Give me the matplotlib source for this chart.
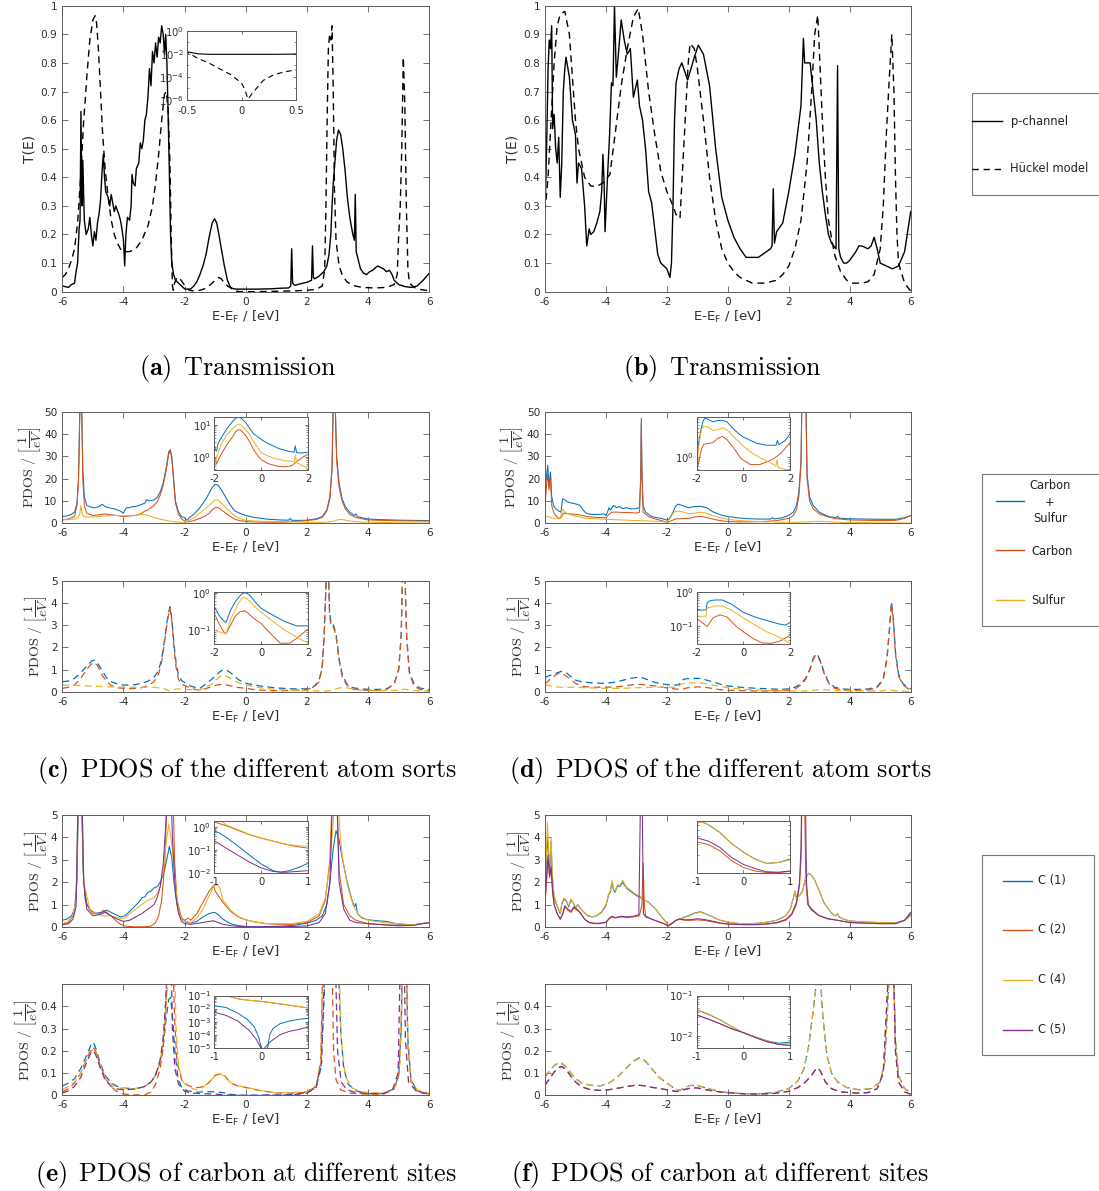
import numpy as np
import matplotlib
matplotlib.use("Agg")
import matplotlib.pyplot as plt
from matplotlib.ticker import FuncFormatter, NullFormatter, LogLocator, FixedLocator
from matplotlib.lines import Line2D
from matplotlib.patches import Rectangle

plt.rcParams['axes.unicode_minus'] = False

# ---------------------------------------------------------------- data
# (a) transmission, molecule 1: (E - E_F [eV], T)
a_pchannel = [(-6.0,0.02),(-5.8,0.015),(-5.7,0.025),(-5.6,0.03),(-5.55,0.07),(-5.5,0.1),(-5.45,0.22),(-5.42,0.25),(-5.39,0.63),(-5.36,0.3),(-5.33,0.46),(-5.28,0.25),(-5.22,0.2),(-5.15,0.22),(-5.1,0.26),(-5.05,0.2),(-5.0,0.16),(-4.95,0.21),(-4.9,0.18),(-4.85,0.24),(-4.8,0.27),(-4.75,0.32),(-4.7,0.42),(-4.66,0.48),(-4.62,0.4),(-4.58,0.35),(-4.5,0.33),(-4.45,0.3),(-4.4,0.34),(-4.35,0.31),(-4.3,0.28),(-4.25,0.3),(-4.15,0.27),(-4.1,0.25),(-4.05,0.22),(-4.0,0.18),(-3.96,0.09),(-3.92,0.2),(-3.87,0.26),(-3.8,0.25),(-3.75,0.3),(-3.72,0.41),(-3.68,0.38),(-3.62,0.37),(-3.58,0.43),(-3.5,0.45),(-3.45,0.52),(-3.4,0.5),(-3.35,0.53),(-3.3,0.6),(-3.25,0.62),(-3.2,0.68),(-3.15,0.78),(-3.1,0.72),(-3.05,0.84),(-3.0,0.8),(-2.95,0.87),(-2.9,0.82),(-2.85,0.89),(-2.8,0.87),(-2.75,0.93),(-2.7,0.9),(-2.66,0.83),(-2.62,0.9),(-2.58,0.8),(-2.54,0.62),(-2.5,0.42),(-2.46,0.2),(-2.42,0.1),(-2.36,0.06),(-2.3,0.04),(-2.2,0.03),(-2.1,0.02),(-2.0,0.01),(-1.9,0.008),(-1.8,0.01),(-1.7,0.02),(-1.6,0.035),(-1.5,0.06),(-1.4,0.09),(-1.3,0.13),(-1.2,0.19),(-1.1,0.24),(-1.02,0.255),(-0.95,0.24),(-0.88,0.2),(-0.8,0.15),(-0.7,0.09),(-0.6,0.04),(-0.5,0.015),(-0.4,0.01),(-0.3,0.009),(0.0,0.009),(0.3,0.009),(0.5,0.0095),(0.8,0.01),(1.1,0.012),(1.4,0.013),(1.47,0.02),(1.5,0.15),(1.53,0.03),(1.6,0.022),(1.8,0.028),(2.0,0.033),(2.15,0.04),(2.18,0.16),(2.21,0.05),(2.25,0.045),(2.4,0.055),(2.55,0.07),(2.65,0.09),(2.72,0.13),(2.78,0.2),(2.82,0.3),(2.86,0.38),(2.92,0.46),(2.97,0.53),(3.03,0.565),(3.1,0.55),(3.17,0.5),(3.25,0.42),(3.32,0.33),(3.4,0.26),(3.5,0.2),(3.55,0.18),(3.58,0.34),(3.61,0.14),(3.68,0.11),(3.75,0.08),(3.85,0.065),(3.95,0.06),(4.05,0.07),(4.15,0.075),(4.25,0.085),(4.32,0.09),(4.4,0.085),(4.5,0.08),(4.6,0.07),(4.7,0.075),(4.78,0.06),(4.85,0.04),(5.0,0.025),(5.2,0.018),(5.4,0.015),(5.6,0.02),(5.8,0.04),(6.0,0.065)]
a_huckel = [(-6.0,0.05),(-5.9,0.06),(-5.8,0.08),(-5.7,0.11),(-5.6,0.15),(-5.5,0.24),(-5.4,0.4),(-5.3,0.6),(-5.25,0.67),(-5.2,0.75),(-5.1,0.88),(-5.0,0.95),(-4.93,0.965),(-4.88,0.94),(-4.82,0.85),(-4.75,0.7),(-4.68,0.55),(-4.6,0.43),(-4.5,0.33),(-4.4,0.25),(-4.3,0.2),(-4.2,0.17),(-4.1,0.15),(-4.0,0.14),(-3.8,0.14),(-3.6,0.15),(-3.4,0.18),(-3.2,0.23),(-3.05,0.3),(-2.95,0.38),(-2.85,0.48),(-2.75,0.6),(-2.66,0.69),(-2.6,0.7),(-2.54,0.64),(-2.48,0.45),(-2.44,0.2),(-2.4,0.02),(-2.37,0.005),(-2.33,0.03),(-2.25,0.05),(-2.15,0.045),(-2.05,0.03),(-1.95,0.015),(-1.85,0.005),(-1.7,0.003),(-1.5,0.005),(-1.3,0.012),(-1.15,0.025),(-1.0,0.04),(-0.88,0.05),(-0.8,0.045),(-0.7,0.03),(-0.6,0.02),(-0.5,0.014),(-0.4,0.004),(-0.3,0.0016),(-0.2,5e-4),(-0.1,1.6e-4),(0.0,3e-5),(0.03,8e-6),(0.06,1.2e-6),(0.1,4e-6),(0.15,1.4e-5),(0.2,5e-5),(0.3,1.6e-4),(0.4,2.8e-4),(0.5,4e-4),(0.8,0.001),(1.2,0.002),(1.6,0.003),(2.0,0.005),(2.3,0.008),(2.5,0.02),(2.58,0.08),(2.62,0.3),(2.66,0.6),(2.7,0.85),(2.74,0.9),(2.78,0.88),(2.82,0.93),(2.86,0.7),(2.9,0.35),(2.95,0.18),(3.05,0.09),(3.15,0.06),(3.3,0.035),(3.5,0.022),(3.8,0.015),(4.2,0.013),(4.6,0.015),(4.85,0.025),(4.95,0.06),(5.0,0.2),(5.05,0.3),(5.1,0.5),(5.15,0.82),(5.2,0.65),(5.25,0.3),(5.3,0.08),(5.35,0.03),(5.5,0.015),(5.7,0.008),(6.0,0.003)]

# (b) transmission, molecule 2
b_pchannel = [(-6.0,0.28),(-5.97,0.4),(-5.93,0.6),(-5.9,0.78),(-5.86,0.88),(-5.82,0.85),(-5.78,0.93),(-5.75,0.57),(-5.7,0.62),(-5.65,0.5),(-5.6,0.45),(-5.55,0.54),(-5.5,0.33),(-5.45,0.45),(-5.4,0.7),(-5.35,0.78),(-5.31,0.82),(-5.2,0.75),(-5.1,0.6),(-5.0,0.55),(-4.95,0.38),(-4.9,0.45),(-4.8,0.43),(-4.7,0.3),(-4.63,0.16),(-4.55,0.22),(-4.5,0.2),(-4.4,0.21),(-4.3,0.24),(-4.2,0.28),(-4.14,0.35),(-4.1,0.48),(-4.06,0.38),(-4.03,0.21),(-3.95,0.4),(-3.88,0.55),(-3.82,0.73),(-3.77,0.72),(-3.72,1.0),(-3.66,0.75),(-3.6,0.82),(-3.5,0.95),(-3.4,0.88),(-3.3,0.83),(-3.2,0.85),(-3.1,0.68),(-2.97,0.74),(-2.9,0.65),(-2.8,0.6),(-2.7,0.5),(-2.6,0.35),(-2.5,0.31),(-2.4,0.22),(-2.3,0.13),(-2.2,0.1),(-2.1,0.09),(-2.0,0.08),(-1.9,0.05),(-1.85,0.1),(-1.8,0.3),(-1.75,0.6),(-1.7,0.73),(-1.6,0.78),(-1.51,0.8),(-1.32,0.74),(-1.1,0.82),(-0.97,0.862),(-0.8,0.83),(-0.6,0.72),(-0.4,0.5),(-0.2,0.33),(0.0,0.25),(0.2,0.19),(0.4,0.15),(0.6,0.12),(0.8,0.12),(1.0,0.12),(1.2,0.135),(1.4,0.15),(1.45,0.16),(1.49,0.36),(1.53,0.17),(1.6,0.21),(1.8,0.24),(2.0,0.35),(2.2,0.48),(2.4,0.65),(2.48,0.886),(2.52,0.8),(2.6,0.8),(2.7,0.8),(2.8,0.7),(2.9,0.6),(3.0,0.45),(3.1,0.35),(3.2,0.27),(3.3,0.2),(3.4,0.17),(3.55,0.15),(3.6,0.79),(3.64,0.15),(3.7,0.12),(3.8,0.1),(3.9,0.1),(4.0,0.11),(4.2,0.14),(4.3,0.16),(4.4,0.16),(4.6,0.15),(4.7,0.16),(4.8,0.19),(4.9,0.15),(5.0,0.1),(5.2,0.09),(5.4,0.08),(5.6,0.09),(5.8,0.14),(6.0,0.28)]
b_huckel = [(-6.0,0.28),(-5.9,0.4),(-5.8,0.6),(-5.7,0.8),(-5.6,0.93),(-5.5,0.97),(-5.35,0.98),(-5.2,0.9),(-5.1,0.75),(-5.0,0.6),(-4.9,0.5),(-4.7,0.4),(-4.5,0.37),(-4.33,0.367),(-4.1,0.38),(-3.87,0.41),(-3.7,0.55),(-3.5,0.72),(-3.3,0.85),(-3.1,0.96),(-2.94,0.99),(-2.8,0.9),(-2.6,0.7),(-2.4,0.55),(-2.2,0.42),(-2.0,0.35),(-1.8,0.3),(-1.7,0.27),(-1.57,0.256),(-1.5,0.4),(-1.4,0.6),(-1.3,0.8),(-1.24,0.868),(-1.1,0.85),(-1.0,0.78),(-0.8,0.6),(-0.6,0.4),(-0.4,0.25),(-0.2,0.15),(0.0,0.1),(0.2,0.07),(0.4,0.05),(0.6,0.04),(0.8,0.03),(1.0,0.03),(1.2,0.03),(1.4,0.035),(1.6,0.04),(1.8,0.06),(2.0,0.09),(2.2,0.15),(2.4,0.25),(2.6,0.45),(2.75,0.7),(2.85,0.9),(2.95,0.967),(3.0,0.85),(3.1,0.6),(3.2,0.4),(3.3,0.25),(3.5,0.13),(3.7,0.07),(3.9,0.04),(4.1,0.03),(4.4,0.03),(4.6,0.035),(4.8,0.06),(5.0,0.15),(5.1,0.3),(5.2,0.55),(5.3,0.75),(5.38,0.9),(5.45,0.7),(5.5,0.4),(5.55,0.2),(5.6,0.1),(5.8,0.03),(6.0,0.002)]

# (c) PDOS by atom sort, molecule 1 -- upper: p-channel, lower: Hueckel
c_top_cs = [(-6.0,3.0),(-5.9,3.2),(-5.8,3.5),(-5.7,4.0),(-5.6,5.0),(-5.52,9),(-5.47,20),(-5.42,55),(-5.37,55),(-5.33,25),(-5.28,12),(-5.2,8),(-5.1,7.5),(-5.0,7),(-4.9,7),(-4.8,7.5),(-4.7,8.5),(-4.6,7.5),(-4.5,7),(-4.3,6.5),(-4.1,5.5),(-4.0,4.5),(-3.95,6),(-3.9,7),(-3.8,7),(-3.7,7.5),(-3.6,7.5),(-3.5,8),(-3.4,8.5),(-3.3,9),(-3.25,10.5),(-3.15,10),(-3.0,10.5),(-2.9,11.5),(-2.8,14),(-2.7,18),(-2.6,25),(-2.52,32),(-2.47,33),(-2.42,30),(-2.36,20),(-2.3,10),(-2.2,5),(-2.1,3),(-2.0,2.5),(-1.95,1.6),(-1.9,1.5),(-1.85,2.5),(-1.7,4),(-1.5,7),(-1.3,11),(-1.1,16),(-1.0,17.5),(-0.9,17),(-0.8,15),(-0.65,11.5),(-0.5,8),(-0.35,5.5),(-0.2,4.5),(0.0,3.5),(0.25,2.7),(0.5,2.2),(0.75,1.8),(1.0,1.6),(1.2,1.45),(1.4,1.4),(1.45,2.2),(1.5,1.35),(1.7,1.3),(2.0,1.4),(2.3,2),(2.5,3),(2.65,6),(2.75,12),(2.82,25),(2.86,55),(2.92,55),(2.97,30),(3.05,18),(3.15,11),(3.25,7.5),(3.4,5),(3.55,3.5),(3.6,4.2),(3.65,3),(3.8,2.5),(4.0,1.9),(4.5,1.6),(5.0,1.4),(5.5,1.3),(6.0,1.2)]
c_top_c = [(-6.0,1.5),(-5.8,2),(-5.6,3),(-5.52,8),(-5.47,19),(-5.42,55),(-5.37,55),(-5.33,20),(-5.28,8),(-5.2,4.5),(-5.0,3.5),(-4.8,3.8),(-4.6,4.2),(-4.4,3.8),(-4.2,3.5),(-4.0,3),(-3.8,3.3),(-3.6,3.5),(-3.4,4.5),(-3.3,5.5),(-3.2,6),(-3.1,7),(-3.0,8),(-2.9,9.5),(-2.8,12.5),(-2.7,17),(-2.6,24),(-2.52,31),(-2.47,32.5),(-2.42,29),(-2.36,19),(-2.3,9),(-2.2,4),(-2.1,2),(-2.0,1.0),(-1.9,0.6),(-1.8,0.9),(-1.7,1.2),(-1.5,2.2),(-1.3,3.5),(-1.2,4.5),(-1.1,6),(-1.0,7),(-0.9,7),(-0.8,6),(-0.65,4.5),(-0.5,3),(-0.35,1.8),(-0.2,1.2),(0.0,0.8),(0.3,0.6),(0.7,0.5),(1.0,0.48),(1.3,0.52),(1.5,0.7),(1.8,1.0),(2.0,1.2),(2.3,1.7),(2.5,2.6),(2.65,5.5),(2.75,11),(2.82,24),(2.86,55),(2.92,55),(2.97,28),(3.05,16),(3.15,10),(3.25,6.5),(3.4,4),(3.6,2.6),(3.8,2),(4.0,1.5),(5.0,1.1),(6.0,1.0)]
c_top_s = [(-6.0,1.5),(-5.8,1.7),(-5.6,1.9),(-5.5,2.5),(-5.43,4),(-5.39,8),(-5.35,4),(-5.3,3),(-5.1,2.8),(-4.9,2.9),(-4.7,3.2),(-4.5,3.4),(-4.2,3.5),(-4.0,3.4),(-3.8,3.5),(-3.6,3.6),(-3.4,4),(-3.2,3.6),(-3.0,2.6),(-2.8,1.8),(-2.6,1.3),(-2.4,0.8),(-2.2,0.5),(-2.0,0.4),(-1.9,1.0),(-1.7,2.5),(-1.5,4.5),(-1.2,8),(-1.0,10.5),(-0.9,10.5),(-0.8,9),(-0.65,7),(-0.5,5),(-0.35,3.2),(-0.2,2.2),(0.0,1.3),(0.5,0.9),(1.0,0.75),(1.4,0.7),(1.45,1.1),(1.5,0.65),(1.8,0.5),(2.0,0.4),(2.4,0.4),(2.7,0.6),(2.9,1.0),(3.05,1.8),(3.2,1.6),(3.4,1.0),(3.7,0.6),(4.0,0.5),(5.0,0.25),(6.0,0.1)]
c_bot_cs = [(-6.0,0.45),(-5.8,0.48),(-5.6,0.6),(-5.4,0.85),(-5.2,1.15),(-5.05,1.38),(-4.95,1.42),(-4.85,1.3),(-4.7,0.95),(-4.55,0.62),(-4.4,0.45),(-4.2,0.35),(-4.0,0.3),(-3.8,0.3),(-3.6,0.32),(-3.4,0.38),(-3.2,0.47),(-3.0,0.65),(-2.85,0.95),(-2.75,1.5),(-2.65,2.4),(-2.55,3.4),(-2.48,3.83),(-2.42,3.3),(-2.35,2.2),(-2.28,1.3),(-2.2,0.75),(-2.1,0.5),(-2.0,0.42),(-1.8,0.25),(-1.65,0.19),(-1.5,0.16),(-1.3,0.35),(-1.1,0.58),(-1.0,0.7),(-0.85,0.9),(-0.72,1.0),(-0.6,0.95),(-0.45,0.8),(-0.25,0.55),(0.0,0.38),(0.5,0.25),(1.0,0.17),(1.5,0.13),(2.0,0.13),(2.2,0.2),(2.4,0.5),(2.5,1.2),(2.56,2.5),(2.6,4.0),(2.64,5.5),(2.7,5.5),(2.74,3.6),(2.8,3.0),(2.87,3.0),(2.95,2.6),(3.05,1.5),(3.15,0.8),(3.3,0.35),(3.5,0.18),(3.8,0.12),(4.2,0.1),(4.6,0.12),(4.85,0.35),(5.0,1.0),(5.08,2.5),(5.13,5.5),(5.2,5.5),(5.26,2.5),(5.35,0.9),(5.5,0.35),(5.7,0.16),(6.0,0.1)]
c_bot_c = [(-6.0,0.15),(-5.8,0.2),(-5.6,0.3),(-5.4,0.6),(-5.2,1.0),(-5.05,1.25),(-4.95,1.3),(-4.85,1.18),(-4.7,0.75),(-4.55,0.45),(-4.4,0.28),(-4.2,0.18),(-4.0,0.15),(-3.7,0.14),(-3.4,0.18),(-3.2,0.28),(-3.0,0.45),(-2.85,0.8),(-2.75,1.35),(-2.65,2.3),(-2.55,3.3),(-2.48,3.75),(-2.42,3.2),(-2.35,2.0),(-2.28,1.1),(-2.2,0.55),(-2.1,0.35),(-2.0,0.28),(-1.8,0.15),(-1.6,0.09),(-1.5,0.08),(-1.3,0.14),(-1.1,0.24),(-0.9,0.31),(-0.72,0.33),(-0.55,0.28),(-0.3,0.2),(0.0,0.15),(0.25,0.1),(0.5,0.07),(0.8,0.045),(1.2,0.045),(1.5,0.06),(1.8,0.085),(2.0,0.11),(2.2,0.18),(2.4,0.45),(2.5,1.1),(2.56,2.4),(2.6,3.9),(2.64,5.5),(2.7,5.5),(2.74,3.4),(2.8,2.9),(2.87,2.9),(2.95,2.5),(3.05,1.4),(3.15,0.7),(3.3,0.3),(3.5,0.12),(3.8,0.07),(4.2,0.06),(4.6,0.1),(4.85,0.33),(5.0,1.0),(5.08,2.5),(5.13,5.5),(5.2,5.5),(5.26,2.4),(5.35,0.8),(5.5,0.25),(5.7,0.1),(6.0,0.05)]
c_bot_s = [(-6.0,0.3),(-5.5,0.28),(-5.0,0.25),(-4.5,0.22),(-4.0,0.2),(-3.5,0.2),(-3.0,0.2),(-2.7,0.15),(-2.55,0.06),(-2.45,0.04),(-2.35,0.1),(-2.2,0.13),(-2.0,0.1),(-1.8,0.09),(-1.5,0.08),(-1.3,0.2),(-1.1,0.35),(-1.0,0.5),(-0.85,0.68),(-0.75,0.75),(-0.6,0.68),(-0.45,0.55),(-0.2,0.38),(0.0,0.3),(0.5,0.17),(1.0,0.1),(1.5,0.065),(2.0,0.045),(2.3,0.04),(2.6,0.03),(2.8,0.05),(3.0,0.15),(3.2,0.2),(3.4,0.15),(3.7,0.08),(4.0,0.06),(4.5,0.05),(5.0,0.06),(5.2,0.12),(5.4,0.06),(6.0,0.02)]

# (d) PDOS by atom sort, molecule 2
d_top_cs = [(-6.0,13),(-5.96,20),(-5.91,26),(-5.87,17),(-5.82,23),(-5.78,12),(-5.72,8),(-5.65,6.5),(-5.55,5.5),(-5.48,5),(-5.42,11),(-5.35,10.5),(-5.25,9.5),(-5.1,9),(-4.95,8.5),(-4.85,8),(-4.75,6),(-4.65,4.5),(-4.5,4),(-4.2,4),(-4.05,4.2),(-4.0,3.5),(-3.95,5),(-3.9,7),(-3.85,6),(-3.75,8),(-3.65,7),(-3.55,7.5),(-3.45,6.5),(-3.35,7),(-3.2,6.5),(-3.05,6.5),(-2.9,7),(-2.86,20),(-2.84,47),(-2.82,25),(-2.78,8),(-2.7,5),(-2.5,3),(-2.2,2.2),(-2.0,1.5),(-1.95,1.6),(-1.9,2.5),(-1.8,5),(-1.72,7.5),(-1.64,8.6),(-1.5,8),(-1.3,7),(-1.1,7.5),(-0.9,7.6),(-0.7,7),(-0.5,5.2),(-0.2,3.6),(0.0,3.0),(0.3,2.5),(0.6,2.1),(1.0,1.9),(1.4,1.9),(1.46,2.5),(1.52,1.95),(1.8,2.5),(2.0,3.6),(2.15,5),(2.25,8),(2.33,14),(2.4,28),(2.43,55),(2.56,55),(2.6,22),(2.68,12),(2.8,8),(3.0,5),(3.3,3),(3.55,2.5),(3.6,3.2),(3.65,2.3),(4.0,2),(5.0,1.8),(5.5,1.8),(5.8,2.5),(6.0,3.5)]
d_top_c = [(-6.0,8),(-5.96,15),(-5.91,22.5),(-5.87,15),(-5.82,20),(-5.78,8),(-5.72,5),(-5.62,3),(-5.52,2),(-5.45,3),(-5.4,4.5),(-5.2,4.2),(-5.0,4),(-4.8,3.6),(-4.6,3),(-4.3,2.6),(-4.0,2.5),(-3.9,4),(-3.8,5),(-3.6,5),(-3.4,4.8),(-3.2,4.8),(-3.0,4.6),(-2.9,5),(-2.86,20),(-2.84,45),(-2.82,22),(-2.78,5),(-2.6,3),(-2.4,2),(-2.2,1.3),(-2.0,0.5),(-1.9,0.8),(-1.8,1.5),(-1.7,2),(-1.5,2.1),(-1.3,2.2),(-1.1,2.8),(-0.9,3.1),(-0.7,2.6),(-0.4,1.6),(-0.1,0.9),(0.3,0.65),(0.7,0.65),(1.0,0.75),(1.3,0.9),(1.6,1.2),(2.0,2.2),(2.15,3.5),(2.25,6),(2.33,12),(2.4,26),(2.43,55),(2.56,55),(2.6,20),(2.68,10),(2.8,6.5),(3.0,4.2),(3.3,2.8),(3.6,2),(4.0,1.5),(5.0,1.2),(5.5,1.3),(5.8,2.2),(6.0,3.5)]
d_top_s = [(-6.0,3.5),(-5.9,3.0),(-5.8,2.5),(-5.6,2),(-5.5,2.5),(-5.42,6.5),(-5.35,5),(-5.2,4),(-5.0,3.2),(-4.8,2.6),(-4.6,2.2),(-4.3,2),(-4.0,1.8),(-3.5,1.5),(-3.0,1.2),(-2.5,1),(-2.2,0.8),(-2.0,0.6),(-1.9,2),(-1.8,4.5),(-1.7,5.5),(-1.5,5.2),(-1.3,4.3),(-1.1,4.5),(-0.9,5),(-0.7,4.5),(-0.4,3),(0.0,1.8),(0.4,1.2),(0.8,0.9),(1.1,0.75),(1.4,0.6),(1.45,0.85),(1.5,0.55),(1.8,0.5),(2.0,0.48),(2.3,0.5),(2.6,0.6),(3.0,0.9),(3.4,0.6),(4.0,0.35),(5.0,0.2),(6.0,0.1)]
d_bot_cs = [(-6.0,0.65),(-5.8,0.75),(-5.6,0.85),(-5.45,0.92),(-5.3,0.85),(-5.15,0.68),(-5.0,0.52),(-4.8,0.45),(-4.5,0.4),(-4.2,0.38),(-4.0,0.38),(-3.7,0.43),(-3.4,0.53),(-3.2,0.6),(-3.0,0.64),(-2.8,0.63),(-2.6,0.52),(-2.4,0.42),(-2.2,0.36),(-2.0,0.32),(-1.8,0.3),(-1.6,0.31),(-1.55,0.5),(-1.4,0.58),(-1.2,0.6),(-0.9,0.6),(-0.7,0.52),(-0.5,0.45),(-0.25,0.34),(0.0,0.26),(0.5,0.19),(1.0,0.15),(1.5,0.12),(1.8,0.11),(2.0,0.13),(2.2,0.2),(2.4,0.35),(2.55,0.6),(2.7,1.05),(2.8,1.5),(2.88,1.7),(2.95,1.65),(3.05,1.35),(3.15,0.9),(3.3,0.45),(3.5,0.2),(3.8,0.12),(4.2,0.1),(4.6,0.12),(4.9,0.22),(5.1,0.6),(5.22,1.5),(5.3,2.8),(5.37,4.05),(5.43,3.3),(5.5,1.8),(5.6,0.8),(5.75,0.35),(6.0,0.12)]
d_bot_c = [(-6.0,0.35),(-5.8,0.6),(-5.6,0.8),(-5.5,0.84),(-5.35,0.75),(-5.2,0.6),(-5.0,0.38),(-4.8,0.25),(-4.5,0.2),(-4.0,0.2),(-3.6,0.22),(-3.3,0.28),(-3.0,0.33),(-2.8,0.32),(-2.5,0.28),(-2.2,0.22),(-2.0,0.17),(-1.7,0.12),(-1.55,0.1),(-1.3,0.18),(-1.0,0.22),(-0.7,0.19),(-0.3,0.1),(0.0,0.07),(0.4,0.045),(0.8,0.033),(1.2,0.032),(1.6,0.038),(2.0,0.055),(2.2,0.12),(2.4,0.3),(2.55,0.55),(2.7,1.0),(2.8,1.45),(2.88,1.65),(2.95,1.6),(3.05,1.3),(3.15,0.85),(3.3,0.4),(3.5,0.15),(3.8,0.07),(4.2,0.05),(4.6,0.08),(4.9,0.18),(5.1,0.55),(5.22,1.45),(5.3,2.7),(5.37,3.95),(5.43,3.2),(5.5,1.7),(5.6,0.7),(5.75,0.3),(6.0,0.05)]
d_bot_s = [(-6.0,0.3),(-5.8,0.25),(-5.5,0.2),(-5.0,0.2),(-4.5,0.17),(-4.0,0.15),(-3.5,0.15),(-3.0,0.18),(-2.5,0.2),(-2.0,0.2),(-1.6,0.2),(-1.55,0.35),(-1.2,0.4),(-0.9,0.4),(-0.5,0.3),(0.0,0.18),(0.5,0.11),(1.0,0.07),(1.5,0.05),(2.0,0.032),(2.5,0.03),(2.8,0.06),(3.0,0.1),(3.3,0.08),(3.6,0.05),(4.0,0.04),(5.0,0.03),(5.3,0.08),(5.5,0.04),(6.0,0.01)]

# (e) carbon PDOS by site, molecule 1
e_top_c1 = [(-6.0,0.3),(-5.85,0.35),(-5.7,0.5),(-5.6,0.8),(-5.52,2),(-5.47,6),(-5.37,6),(-5.32,2.5),(-5.25,1.2),(-5.1,0.75),(-4.9,0.62),(-4.7,0.65),(-4.55,0.75),(-4.4,0.65),(-4.25,0.55),(-4.1,0.45),(-3.95,0.5),(-3.8,0.7),(-3.65,0.9),(-3.5,1.1),(-3.4,1.3),(-3.3,1.35),(-3.2,1.55),(-3.1,1.6),(-3.0,1.75),(-2.9,1.8),(-2.8,2.0),(-2.7,2.3),(-2.6,2.9),(-2.5,3.6),(-2.42,3.1),(-2.35,2.0),(-2.25,1.0),(-2.15,0.5),(-2.05,0.3),(-1.9,0.2),(-1.8,0.17),(-1.6,0.25),(-1.4,0.45),(-1.2,0.6),(-1.05,0.65),(-1.0,0.64),(-0.9,0.55),(-0.75,0.35),(-0.5,0.15),(-0.25,0.06),(0.0,0.025),(0.25,0.013),(0.4,0.011),(0.6,0.013),(0.8,0.018),(1.0,0.027),(1.3,0.05),(1.6,0.08),(2.0,0.17),(2.3,0.3),(2.5,0.5),(2.65,1.0),(2.75,2.0),(2.85,3.4),(2.95,4.3),(3.05,3.9),(3.15,3.1),(3.3,2.1),(3.45,1.3),(3.55,0.9),(3.6,1.05),(3.65,0.6),(3.8,0.4),(4.0,0.32),(4.3,0.28),(4.6,0.25),(5.0,0.12),(5.5,0.1),(6.0,0.2)]
e_top_c2 = [(-6.0,0.1),(-5.8,0.2),(-5.65,0.5),(-5.55,1.2),(-5.48,6),(-5.37,6),(-5.3,2),(-5.2,1.0),(-5.0,0.6),(-4.8,0.58),(-4.65,0.75),(-4.5,0.6),(-4.3,0.35),(-4.1,0.12),(-3.9,0.03),(-3.6,0.01),(-3.3,0.01),(-3.1,0.04),(-2.95,0.2),(-2.85,0.5),(-2.75,1.2),(-2.65,2.8),(-2.57,6),(-2.38,6),(-2.33,3),(-2.25,1.2),(-2.1,0.4),(-2.0,0.3),(-1.88,0.4),(-1.8,0.3),(-1.6,0.6),(-1.4,1.1),(-1.2,1.6),(-1.05,1.85),(-1.0,1.6),(-0.75,1.1),(-0.5,0.7),(-0.25,0.45),(0.0,0.32),(0.25,0.24),(0.5,0.18),(0.75,0.14),(1.0,0.12),(1.5,0.12),(2.0,0.2),(2.4,0.5),(2.6,1.2),(2.75,3.0),(2.83,6),(2.97,6),(3.05,2.5),(3.2,1.0),(3.4,0.5),(3.6,0.3),(4.0,0.15),(4.5,0.1),(5.0,0.08),(5.5,0.1),(6.0,0.2)]
e_top_c4 = [(-6.0,0.15),(-5.8,0.25),(-5.65,0.55),(-5.55,1.2),(-5.47,6),(-5.35,6),(-5.3,2),(-5.1,0.8),(-4.9,0.6),(-4.7,0.5),(-4.5,0.5),(-4.3,0.45),(-4.1,0.38),(-3.95,0.4),(-3.8,0.6),(-3.6,0.8),(-3.4,1.0),(-3.2,1.2),(-3.0,1.3),(-2.9,1.5),(-2.8,1.8),(-2.7,2.5),(-2.6,3.8),(-2.52,4.6),(-2.45,4.0),(-2.38,3.2),(-2.3,1.8),(-2.2,0.8),(-2.1,0.35),(-2.0,0.25),(-1.8,0.2),(-1.6,0.4),(-1.4,0.8),(-1.2,1.4),(-1.05,1.8),(-0.95,1.9),(-0.85,1.75),(-0.75,1.2),(-0.5,0.75),(-0.25,0.47),(0.0,0.33),(0.25,0.24),(0.5,0.18),(0.8,0.15),(1.0,0.15),(1.5,0.15),(2.0,0.25),(2.4,0.6),(2.6,1.3),(2.75,2.8),(2.85,4.5),(2.92,6),(3.0,6),(3.08,4.2),(3.15,3.2),(3.3,2.0),(3.5,1.0),(3.7,0.5),(4.0,0.3),(4.5,0.2),(5.0,0.15),(5.5,0.1),(6.0,0.2)]
e_top_c5 = [(-6.0,0.1),(-5.8,0.15),(-5.65,0.35),(-5.55,0.9),(-5.48,6),(-5.36,6),(-5.3,2),(-5.2,0.8),(-5.0,0.5),(-4.8,0.55),(-4.6,0.65),(-4.4,0.5),(-4.2,0.35),(-4.0,0.25),(-3.8,0.3),(-3.6,0.45),(-3.4,0.6),(-3.2,0.8),(-3.0,1.0),(-2.9,1.3),(-2.8,1.8),(-2.7,2.8),(-2.62,4.5),(-2.56,6),(-2.44,6),(-2.4,4),(-2.3,1.5),(-2.2,0.6),(-2.1,0.25),(-2.0,0.15),(-1.8,0.12),(-1.5,0.18),(-1.2,0.25),(-1.05,0.28),(-1.0,0.25),(-0.75,0.12),(-0.5,0.06),(-0.25,0.03),(0.0,0.017),(0.25,0.012),(0.5,0.011),(0.75,0.012),(1.0,0.013),(1.5,0.02),(2.0,0.05),(2.4,0.2),(2.6,0.6),(2.75,2.0),(2.84,6),(2.98,6),(3.05,2.0),(3.2,0.8),(3.4,0.3),(3.6,0.2),(4.0,0.15),(4.5,0.1),(5.0,0.05),(5.5,0.08),(6.0,0.2)]
e_bot_c1 = [(-6.0,0.042),(-5.8,0.055),(-5.6,0.075),(-5.4,0.12),(-5.2,0.18),(-5.05,0.23),(-4.98,0.237),(-4.9,0.21),(-4.75,0.14),(-4.6,0.09),(-4.4,0.055),(-4.2,0.04),(-4.0,0.032),(-3.6,0.03),(-3.3,0.04),(-3.1,0.06),(-2.95,0.09),(-2.8,0.15),(-2.7,0.22),(-2.6,0.35),(-2.52,0.43),(-2.46,0.44),(-2.4,0.36),(-2.32,0.2),(-2.22,0.08),(-2.1,0.035),(-1.9,0.02),(-1.6,0.014),(-1.3,0.016),(-1.0,0.016),(-0.75,0.012),(-0.5,0.0045),(-0.3,0.0015),(-0.15,0.0004),(-0.05,6e-5),(0.0,8e-6),(0.13,8e-6),(0.18,1e-4),(0.25,3e-4),(0.4,7e-4),(0.6,0.0011),(0.8,0.0015),(1.0,0.0018),(1.5,0.004),(2.0,0.012),(2.3,0.035),(2.45,0.12),(2.55,0.4),(2.6,0.6),(3.02,0.6),(3.1,0.3),(3.2,0.12),(3.35,0.05),(3.6,0.02),(4.0,0.008),(4.5,0.008),(4.85,0.03),(5.0,0.09),(5.08,0.3),(5.12,0.6),(5.25,0.6),(5.3,0.25),(5.4,0.07),(5.6,0.02),(6.0,0.005)]
e_bot_c2 = [(-6.0,0.015),(-5.8,0.03),(-5.6,0.055),(-5.4,0.1),(-5.2,0.165),(-5.05,0.21),(-4.98,0.215),(-4.9,0.195),(-4.75,0.13),(-4.6,0.08),(-4.45,0.045),(-4.25,0.02),(-4.0,0.006),(-3.7,0.002),(-3.3,0.002),(-3.1,0.015),(-2.95,0.05),(-2.8,0.12),(-2.7,0.22),(-2.62,0.38),(-2.57,0.6),(-2.38,0.6),(-2.33,0.35),(-2.25,0.15),(-2.1,0.07),(-1.9,0.045),(-1.7,0.035),(-1.5,0.035),(-1.3,0.045),(-1.15,0.065),(-1.0,0.09),(-0.85,0.096),(-0.7,0.09),(-0.5,0.055),(-0.25,0.042),(0.0,0.035),(0.5,0.02),(1.0,0.011),(1.5,0.01),(2.0,0.014),(2.3,0.04),(2.45,0.15),(2.52,0.6),(2.82,0.6),(2.87,0.2),(2.95,0.07),(3.1,0.025),(3.4,0.01),(4.0,0.005),(4.5,0.005),(4.85,0.03),(5.0,0.09),(5.08,0.3),(5.12,0.6),(5.25,0.6),(5.3,0.22),(5.4,0.06),(5.6,0.02),(6.0,0.005)]
e_bot_c4 = [(-6.0,0.025),(-5.8,0.04),(-5.6,0.06),(-5.4,0.1),(-5.2,0.16),(-5.05,0.2),(-4.98,0.205),(-4.9,0.19),(-4.75,0.13),(-4.6,0.08),(-4.4,0.05),(-4.2,0.035),(-4.0,0.03),(-3.6,0.03),(-3.3,0.04),(-3.1,0.06),(-2.95,0.09),(-2.8,0.15),(-2.7,0.25),(-2.6,0.4),(-2.52,0.6),(-2.33,0.6),(-2.28,0.3),(-2.2,0.13),(-2.05,0.06),(-1.85,0.035),(-1.6,0.025),(-1.4,0.035),(-1.2,0.06),(-1.0,0.088),(-0.85,0.095),(-0.7,0.088),(-0.5,0.057),(-0.25,0.043),(0.0,0.036),(0.5,0.021),(1.0,0.011),(1.5,0.012),(2.0,0.018),(2.3,0.045),(2.45,0.15),(2.52,0.6),(3.05,0.6),(3.12,0.25),(3.25,0.09),(3.45,0.035),(3.8,0.015),(4.3,0.01),(4.7,0.015),(4.9,0.04),(5.05,0.15),(5.12,0.6),(5.25,0.6),(5.3,0.22),(5.4,0.07),(5.6,0.025),(6.0,0.01)]
e_bot_c5 = [(-6.0,0.01),(-5.8,0.02),(-5.6,0.04),(-5.4,0.08),(-5.2,0.15),(-5.05,0.195),(-4.98,0.2),(-4.9,0.18),(-4.75,0.12),(-4.6,0.07),(-4.4,0.04),(-4.2,0.028),(-4.0,0.025),(-3.6,0.028),(-3.3,0.04),(-3.1,0.06),(-2.95,0.09),(-2.8,0.16),(-2.7,0.26),(-2.62,0.42),(-2.56,0.6),(-2.44,0.6),(-2.4,0.3),(-2.32,0.12),(-2.2,0.05),(-2.0,0.018),(-1.8,0.01),(-1.5,0.008),(-1.25,0.0065),(-1.0,0.0052),(-0.75,0.003),(-0.5,0.0011),(-0.25,0.0002),(-0.1,4e-5),(0.0,8e-6),(0.05,8e-6),(0.2,3e-5),(0.4,1e-4),(0.6,1.8e-4),(0.8,2.5e-4),(1.0,4e-4),(1.5,0.002),(2.0,0.01),(2.3,0.035),(2.48,0.15),(2.58,0.6),(2.93,0.6),(3.0,0.2),(3.12,0.06),(3.3,0.025),(3.6,0.012),(4.0,0.008),(4.5,0.008),(4.8,0.025),(4.98,0.1),(5.05,0.6),(5.18,0.6),(5.22,0.25),(5.32,0.06),(5.6,0.015),(6.0,0.005)]

# (f) carbon PDOS by site, molecule 2
f_top_c1 = [(-6.0,1.8),(-5.96,2.6),(-5.92,4.0),(-5.88,3.3),(-5.84,2.6),(-5.8,3.8),(-5.76,2.2),(-5.7,1.3),(-5.62,1.0),(-5.55,0.75),(-5.5,0.6),(-5.45,1.0),(-5.38,1.25),(-5.3,1.15),(-5.22,0.9),(-5.15,1.2),(-5.08,1.1),(-5.0,0.85),(-4.92,1.0),(-4.85,0.85),(-4.75,0.7),(-4.6,0.5),(-4.45,0.45),(-4.3,0.5),(-4.15,0.65),(-4.0,0.95),(-3.92,1.4),(-3.85,1.6),(-3.8,2.0),(-3.75,1.65),(-3.7,1.55),(-3.62,1.85),(-3.55,1.8),(-3.45,2.0),(-3.38,1.85),(-3.3,1.7),(-3.2,1.6),(-3.1,1.5),(-3.0,1.4),(-2.9,1.35),(-2.8,1.25),(-2.6,1.1),(-2.4,0.85),(-2.2,0.5),(-2.05,0.25),(-1.95,0.1),(-1.85,0.15),(-1.7,0.3),(-1.5,0.4),(-1.3,0.5),(-1.1,0.62),(-0.9,0.68),(-0.75,0.6),(-0.5,0.45),(-0.25,0.3),(0.0,0.22),(0.25,0.17),(0.5,0.145),(0.75,0.15),(1.0,0.17),(1.3,0.22),(1.6,0.3),(1.9,0.5),(2.05,0.8),(2.15,1.3),(2.2,1.6),(2.25,1.3),(2.35,1.4),(2.45,1.6),(2.55,2.2),(2.65,2.4),(2.75,2.3),(2.85,2.1),(3.0,1.6),(3.15,1.1),(3.3,0.8),(3.45,0.55),(3.55,0.5),(3.6,0.6),(3.65,0.45),(3.8,0.35),(4.0,0.27),(4.5,0.22),(5.0,0.2),(5.5,0.18),(5.8,0.3),(6.0,0.55)]
f_top_c2 = [(-6.0,1.0),(-5.95,2.0),(-5.9,3.0),(-5.85,2.2),(-5.8,2.6),(-5.75,1.5),(-5.7,1.0),(-5.6,0.6),(-5.5,0.35),(-5.42,0.55),(-5.35,0.9),(-5.25,0.75),(-5.15,0.65),(-5.05,0.85),(-4.95,0.75),(-4.85,0.65),(-4.7,0.35),(-4.55,0.2),(-4.4,0.15),(-4.2,0.15),(-4.0,0.2),(-3.9,0.35),(-3.8,0.45),(-3.7,0.4),(-3.5,0.45),(-3.3,0.42),(-3.1,0.45),(-2.9,0.5),(-2.82,1.0),(-2.78,2.85),(-2.74,1.0),(-2.7,0.5),(-2.5,0.35),(-2.3,0.25),(-2.1,0.15),(-1.95,0.05),(-1.85,0.15),(-1.7,0.3),(-1.6,0.35),(-1.4,0.3),(-1.2,0.3),(-1.0,0.32),(-0.75,0.29),(-0.5,0.23),(-0.25,0.16),(0.0,0.125),(0.25,0.11),(0.5,0.104),(0.75,0.104),(1.0,0.108),(1.3,0.13),(1.6,0.18),(1.9,0.3),(2.1,0.55),(2.25,1.0),(2.35,1.8),(2.4,3.0),(2.43,5.5),(2.52,5.5),(2.56,2.0),(2.62,1.0),(2.75,0.75),(3.0,0.5),(3.3,0.35),(3.6,0.3),(4.0,0.2),(4.5,0.17),(5.0,0.15),(5.5,0.15),(5.8,0.3),(6.0,0.65)]
f_top_c4 = [(-6.0,1.9),(-5.96,3.0),(-5.92,4.7),(-5.88,3.4),(-5.84,2.8),(-5.8,4.0),(-5.76,2.4),(-5.7,1.4),(-5.62,1.05),(-5.55,0.8),(-5.5,0.65),(-5.45,1.05),(-5.38,1.3),(-5.3,1.2),(-5.22,0.95),(-5.15,1.25),(-5.08,1.1),(-5.0,0.9),(-4.92,1.0),(-4.85,0.85),(-4.75,0.7),(-4.6,0.52),(-4.45,0.45),(-4.3,0.52),(-4.15,0.68),(-4.0,1.0),(-3.92,1.45),(-3.85,1.65),(-3.8,2.1),(-3.75,1.7),(-3.7,1.6),(-3.62,1.9),(-3.55,1.85),(-3.45,2.1),(-3.38,1.9),(-3.3,1.75),(-3.2,1.65),(-3.1,1.55),(-3.0,1.45),(-2.9,1.38),(-2.8,1.28),(-2.6,1.1),(-2.4,0.85),(-2.2,0.5),(-2.05,0.25),(-1.95,0.1),(-1.85,0.15),(-1.7,0.28),(-1.5,0.38),(-1.3,0.48),(-1.1,0.6),(-0.9,0.66),(-0.75,0.6),(-0.5,0.45),(-0.25,0.3),(0.0,0.22),(0.25,0.17),(0.5,0.145),(0.75,0.15),(1.0,0.165),(1.3,0.22),(1.6,0.3),(1.9,0.5),(2.05,0.8),(2.15,1.3),(2.2,1.6),(2.25,1.3),(2.35,1.4),(2.45,1.6),(2.55,2.2),(2.65,2.4),(2.75,2.3),(2.85,2.1),(3.0,1.6),(3.15,1.1),(3.3,0.8),(3.45,0.55),(3.55,0.5),(3.6,0.6),(3.65,0.45),(3.8,0.35),(4.0,0.27),(4.5,0.22),(5.0,0.2),(5.5,0.18),(5.8,0.28),(6.0,0.5)]
f_top_c5 = [(-6.0,1.1),(-5.95,2.2),(-5.9,3.2),(-5.85,2.3),(-5.8,2.7),(-5.75,1.6),(-5.7,1.0),(-5.6,0.6),(-5.5,0.35),(-5.42,0.6),(-5.35,0.95),(-5.25,0.8),(-5.15,0.7),(-5.05,0.9),(-4.95,0.8),(-4.85,0.65),(-4.7,0.35),(-4.55,0.2),(-4.4,0.17),(-4.2,0.17),(-4.0,0.22),(-3.9,0.38),(-3.8,0.48),(-3.7,0.42),(-3.5,0.48),(-3.3,0.45),(-3.1,0.48),(-2.92,0.55),(-2.87,5.5),(-2.81,5.5),(-2.77,0.6),(-2.7,0.45),(-2.5,0.35),(-2.3,0.25),(-2.1,0.15),(-1.95,0.05),(-1.85,0.15),(-1.7,0.3),(-1.6,0.35),(-1.4,0.32),(-1.2,0.33),(-1.0,0.37),(-0.75,0.33),(-0.5,0.26),(-0.25,0.18),(0.0,0.14),(0.25,0.12),(0.5,0.107),(0.75,0.105),(1.0,0.11),(1.3,0.14),(1.6,0.2),(1.9,0.33),(2.1,0.6),(2.25,1.1),(2.35,2.0),(2.4,3.5),(2.42,5.5),(2.55,5.5),(2.58,2.0),(2.64,1.0),(2.75,0.8),(3.0,0.5),(3.3,0.37),(3.6,0.3),(4.0,0.2),(4.5,0.17),(5.0,0.15),(5.5,0.15),(5.8,0.3),(6.0,0.65)]
f_bot_c1 = [(-6.0,0.083),(-5.85,0.108),(-5.7,0.133),(-5.55,0.146),(-5.45,0.143),(-5.3,0.128),(-5.15,0.1),(-5.0,0.075),(-4.8,0.055),(-4.5,0.045),(-4.2,0.042),(-3.9,0.055),(-3.6,0.084),(-3.35,0.12),(-3.1,0.153),(-2.9,0.168),(-2.7,0.153),(-2.5,0.12),(-2.25,0.08),(-2.0,0.055),(-1.8,0.035),(-1.6,0.022),(-1.45,0.03),(-1.25,0.044),(-1.0,0.044),(-0.75,0.034),(-0.5,0.025),(-0.25,0.017),(0.0,0.012),(0.25,0.0095),(0.5,0.0076),(0.75,0.0066),(1.0,0.007),(1.5,0.012),(2.0,0.03),(2.3,0.065),(2.5,0.12),(2.65,0.22),(2.8,0.38),(2.9,0.5),(3.05,0.5),(3.12,0.35),(3.25,0.18),(3.4,0.1),(3.6,0.06),(3.9,0.035),(4.3,0.025),(4.7,0.03),(5.0,0.06),(5.15,0.15),(5.28,0.5),(5.45,0.5),(5.5,0.25),(5.6,0.09),(5.8,0.03),(6.0,0.012)]
f_bot_c2 = [(-6.0,0.045),(-5.85,0.074),(-5.7,0.104),(-5.55,0.124),(-5.45,0.129),(-5.3,0.114),(-5.15,0.085),(-5.0,0.06),(-4.8,0.038),(-4.5,0.025),(-4.2,0.022),(-3.9,0.025),(-3.6,0.032),(-3.3,0.04),(-3.0,0.046),(-2.75,0.043),(-2.5,0.036),(-2.2,0.03),(-1.9,0.022),(-1.65,0.017),(-1.45,0.025),(-1.2,0.033),(-1.0,0.033),(-0.75,0.026),(-0.5,0.02),(-0.25,0.015),(0.0,0.012),(0.25,0.0092),(0.5,0.0072),(0.75,0.0062),(1.0,0.0058),(1.5,0.008),(2.0,0.018),(2.3,0.035),(2.55,0.06),(2.75,0.09),(2.9,0.12),(2.97,0.122),(3.05,0.105),(3.2,0.06),(3.4,0.03),(3.7,0.015),(4.2,0.01),(4.6,0.012),(4.9,0.03),(5.1,0.1),(5.25,0.5),(5.45,0.5),(5.5,0.2),(5.6,0.06),(5.8,0.015),(6.0,0.005)]
f_bot_c4 = [(-6.0,0.085),(-5.85,0.11),(-5.7,0.135),(-5.55,0.148),(-5.45,0.145),(-5.3,0.13),(-5.15,0.1),(-5.0,0.075),(-4.8,0.055),(-4.5,0.045),(-4.2,0.042),(-3.9,0.055),(-3.6,0.085),(-3.35,0.12),(-3.1,0.155),(-2.9,0.17),(-2.7,0.155),(-2.5,0.12),(-2.25,0.08),(-2.0,0.055),(-1.8,0.035),(-1.6,0.022),(-1.45,0.03),(-1.25,0.045),(-1.0,0.045),(-0.75,0.035),(-0.5,0.025),(-0.25,0.017),(0.0,0.012),(0.25,0.0095),(0.5,0.0075),(0.75,0.0062),(1.0,0.0065),(1.5,0.012),(2.0,0.03),(2.3,0.065),(2.5,0.12),(2.65,0.22),(2.8,0.38),(2.9,0.5),(3.05,0.5),(3.12,0.35),(3.25,0.18),(3.4,0.1),(3.6,0.06),(3.9,0.035),(4.3,0.025),(4.7,0.03),(5.0,0.06),(5.15,0.15),(5.28,0.5),(5.45,0.5),(5.5,0.25),(5.6,0.09),(5.8,0.03),(6.0,0.012)]
f_bot_c5 = [(-6.0,0.046),(-5.85,0.075),(-5.7,0.105),(-5.55,0.125),(-5.45,0.13),(-5.3,0.115),(-5.15,0.085),(-5.0,0.06),(-4.8,0.038),(-4.5,0.025),(-4.2,0.022),(-3.9,0.025),(-3.6,0.032),(-3.3,0.04),(-3.0,0.046),(-2.75,0.043),(-2.5,0.036),(-2.2,0.03),(-1.9,0.022),(-1.65,0.017),(-1.45,0.025),(-1.2,0.033),(-1.0,0.033),(-0.75,0.026),(-0.5,0.02),(-0.25,0.015),(0.0,0.012),(0.25,0.0092),(0.5,0.0072),(0.75,0.0062),(1.0,0.0058),(1.5,0.008),(2.0,0.018),(2.3,0.035),(2.55,0.06),(2.75,0.09),(2.9,0.12),(2.97,0.122),(3.05,0.105),(3.2,0.06),(3.4,0.03),(3.7,0.015),(4.2,0.01),(4.6,0.012),(4.9,0.03),(5.1,0.1),(5.25,0.5),(5.45,0.5),(5.5,0.2),(5.6,0.06),(5.8,0.015),(6.0,0.005)]

legend_trans = ["p-channel", "Hückel model"]
legend_sorts = ["Carbon\n+\nSulfur", "Carbon", "Sulfur"]
legend_sites = ["C (1)", "C (2)", "C (4)", "C (5)"]
captions = ["Transmission", "Transmission",
            "PDOS of the different atom sorts", "PDOS of the different atom sorts",
            "PDOS of carbon at different sites", "PDOS of carbon at different sites"]

# ---------------------------------------------------------------- style
W, H = 1099, 1191
BLUE, RED, YEL, PUR = '#0072BD', '#D95319', '#EDB120', '#7E2F8E'
AXC, TXT = '#5c5c5c', '#2e2e2e'
DASH_T = (0, (5, 3.5))
DASH_P = (0, (5.5, 3.5))

fig = plt.figure(figsize=(W / 100, H / 100), dpi=100)


def rect(x0, x1, y0, y1):
    return [x0 / W, 1 - y1 / H, (x1 - x0) / W, (y1 - y0) / H]


def fpt(x, y):
    return x / W, 1 - y / H


def xy(series):
    a = np.array(series, float)
    return a[:, 0], a[:, 1]


gfmt = FuncFormatter(lambda v, p: f'{v:g}')


def style(ax, inset=False):
    for s in ax.spines.values():
        s.set_color(AXC)
        s.set_linewidth(0.7)
    ax.tick_params(which='both', direction='in', top=True, right=True,
                   color=AXC, labelcolor=TXT,
                   labelsize=7.2 if inset else 7.6, pad=2.2 if inset else 3.5)
    ax.tick_params(which='major', length=2.5 if inset else 4, width=0.6)
    ax.tick_params(which='minor', length=1.5, width=0.5)


def main_axes(r, ylim, yticks):
    ax = fig.add_axes(r)
    style(ax)
    ax.set_xlim(-6, 6)
    ax.set_ylim(*ylim)
    ax.set_xticks(np.arange(-6, 7, 2))
    ax.set_yticks(yticks)
    ax.xaxis.set_major_formatter(gfmt)
    ax.yaxis.set_major_formatter(gfmt)
    ax.set_xlabel(r'E-E$_\mathrm{F}$ / [eV]', fontsize=9.5, color=TXT, labelpad=1.5)
    return ax


def pdos_label(ax):
    ax.set_ylabel(r'$\mathrm{PDOS}\ /\ \left[\dfrac{1}{eV}\right]$',
                  math_fontfamily='cm', fontsize=10.2, color=TXT, labelpad=1)


def inset(r, xlim, ylim, xticks, yticks, labels=True):
    ax = fig.add_axes(r, zorder=5)
    ax.set_facecolor('white')
    ax.set_yscale('log')
    style(ax, True)
    ax.tick_params(axis='x', pad=3)
    ax.set_xlim(*xlim)
    ax.set_ylim(*ylim)
    ax.set_xticks(xticks)
    ax.xaxis.set_major_formatter(gfmt)
    ax.yaxis.set_major_locator(FixedLocator(yticks))
    ax.yaxis.set_minor_locator(LogLocator(base=10, subs=np.arange(2, 10), numticks=50))
    ax.yaxis.set_minor_formatter(NullFormatter())
    if not labels:
        ax.yaxis.set_major_formatter(NullFormatter())
    return ax


def draw(ax, series_list, colors, ls='-', lw=0.75):
    for s, c in zip(series_list, colors):
        e, v = xy(s)
        ax.plot(e, v, color=c, lw=lw, ls=ls)


# ---------------------------------------------------------------- (a), (b)
for r, pch, huc, ins in [(rect(62.3, 429.3, 5.7, 291.7), a_pchannel, a_huckel, True),
                         (rect(545, 910.7, 5.7, 291.7), b_pchannel, b_huckel, False)]:
    ax = main_axes(r, (0, 1), np.round(np.arange(0, 1.01, 0.1), 1))
    ax.set_ylabel('T(E)', fontsize=10, color=TXT, labelpad=3)
    draw(ax, [pch], ['black'], '-', 1.0)
    draw(ax, [huc], ['black'], DASH_T, 1.0)
    if ins:
        ai = inset(rect(187, 296, 30.7, 100), (-0.5, 0.5), (1e-6, 1),
                   [-0.5, 0, 0.5], [1e-6, 1e-4, 1e-2, 1])
        ai.yaxis.set_minor_locator(FixedLocator([1e-5, 1e-3, 1e-1]))
        ai.tick_params(axis='x', pad=4.5)
        draw(ai, [pch], ['black'], '-', 0.8)
        draw(ai, [huc], ['black'], DASH_T, 0.8)

# ---------------------------------------------------------------- (c), (d)
sort_cols = [BLUE, RED, YEL]
for x0, x1, ix0, ix1, top, bot, tlim, blim in [
        (62.3, 429.3, 214.3, 308.3, [c_top_cs, c_top_c, c_top_s], [c_bot_cs, c_bot_c, c_bot_s],
         (0.38, 17.5), (0.042, 1.06)),
        (545, 910.7, 696.7, 790, [d_top_cs, d_top_c, d_top_s], [d_bot_cs, d_bot_c, d_bot_s],
         (0.48, 9.0), (0.03, 1.05))]:
    ax = main_axes(rect(x0, x1, 411.7, 523.3), (0, 50), np.arange(0, 51, 10))
    pdos_label(ax)
    draw(ax, top, sort_cols)
    ai = inset(rect(ix0, ix1, 417.3, 470), (-2, 2), tlim, [-2, 0, 2], [1, 10])
    draw(ai, top, sort_cols, '-', 0.7)

    ax = main_axes(rect(x0, x1, 580.7, 691.7), (0, 5), np.arange(0, 6, 1))
    pdos_label(ax)
    draw(ax, bot, sort_cols, DASH_P, 0.9)
    ai = inset(rect(ix0, ix1, 591.7, 644.3), (-2, 2), blim, [-2, 0, 2], [0.1, 1])
    draw(ai, bot, sort_cols, '-', 0.7)

# ---------------------------------------------------------------- (e), (f)
site_cols = [BLUE, RED, YEL, PUR]
for x0, x1, ix0, ix1, top, bot, tlim, tt, tl, blim, bt in [
        (62.3, 429.3, 214.3, 308.3, [e_top_c1, e_top_c2, e_top_c4, e_top_c5],
         [e_bot_c1, e_bot_c2, e_bot_c4, e_bot_c5],
         (0.01, 1.7), [0.01, 0.1, 1], True, (1e-5, 0.1), [1e-5, 1e-4, 1e-3, 1e-2, 1e-1]),
        (545, 910.7, 696.7, 790, [f_top_c1, f_top_c2, f_top_c4, f_top_c5],
         [f_bot_c1, f_bot_c2, f_bot_c4, f_bot_c5],
         (0.101, 0.68), [], False, (0.0051, 0.1), [0.01, 0.1])]:
    ax = main_axes(rect(x0, x1, 815, 927), (0, 5), np.arange(0, 6, 1))
    pdos_label(ax)
    draw(ax, top, site_cols)
    ai = inset(rect(ix0, ix1, 821.3, 873.3), (-1, 1), tlim, [-1, 0, 1], tt, tl)
    draw(ai, top, site_cols, '-', 0.7)

    ax = main_axes(rect(x0, x1, 984, 1095.3), (0, 0.4999), [0, 0.1, 0.2, 0.3, 0.4])
    pdos_label(ax)
    draw(ax, bot, site_cols, DASH_P, 0.9)
    ai = inset(rect(ix0, ix1, 995.5, 1047.7), (-1, 1), blim, [-1, 0, 1], bt)
    draw(ai, bot, site_cols, '-', 0.7)

# ---------------------------------------------------------------- legends


def box(x0, x1, y0, y1):
    (fx0, fy1), (fx1, fy0) = fpt(x0, y1), fpt(x1, y0)
    fig.add_artist(Rectangle((fx0, fy1), fx1 - fx0, fy0 - fy1, transform=fig.transFigure,
                             fill=False, edgecolor='#7a7a7a', lw=0.8))


def key(x0, x1, y, color, ls='-', lw=1.0):
    (a, b), (c, d) = fpt(x0, y), fpt(x1, y)
    fig.add_artist(Line2D([a, c], [b, d], transform=fig.transFigure, color=color, ls=ls, lw=lw))


def ltext(x, y, s, ha='left'):
    fx, fy = fpt(x, y)
    fig.text(fx, fy, s, ha=ha, va='center', fontsize=8.3, color='#222222', linespacing=1.35)


box(972.3, 1110, 93.3, 195)
key(972.3, 1001.7, 121, 'black', '-', 1.0)
key(972.3, 1001.7, 169, 'black', (0, (4.5, 3.5)), 1.0)
ltext(1010.5, 121, legend_trans[0])
ltext(1010.5, 169, legend_trans[1])

box(982.3, 1110, 474, 625.7)
for y, c in zip([501, 550, 600], sort_cols):
    key(995.7, 1024, y, c, '-', 1.0)
ltext(1049.7, 502, legend_sorts[0], ha='center')
ltext(1031, 551.5, legend_sorts[1])
ltext(1031, 600.5, legend_sorts[2])

box(982.3, 1094.3, 855, 1055)
for y, c, s in zip([880.7, 930, 980, 1030], site_cols, legend_sites):
    key(1003, 1032, y, c, '-', 1.0)
    ltext(1038.3, y, s)

# ---------------------------------------------------------------- captions
for (cx, cy), tag, s in zip([(238, 368), (723, 368), (247, 770), (720, 770),
                             (246, 1174), (720, 1174)],
                            'abcdef', captions):
    body = s.replace(' ', r'\ ')
    fx, fy = fpt(cx, cy)
    fig.text(fx, fy, r'$\mathbf{(' + tag + r')}\ \,\mathrm{' + body + '}$',
             math_fontfamily='cm', fontsize=18.8, ha='center', va='center', color='black')

fig.savefig('out.png', dpi=100)
